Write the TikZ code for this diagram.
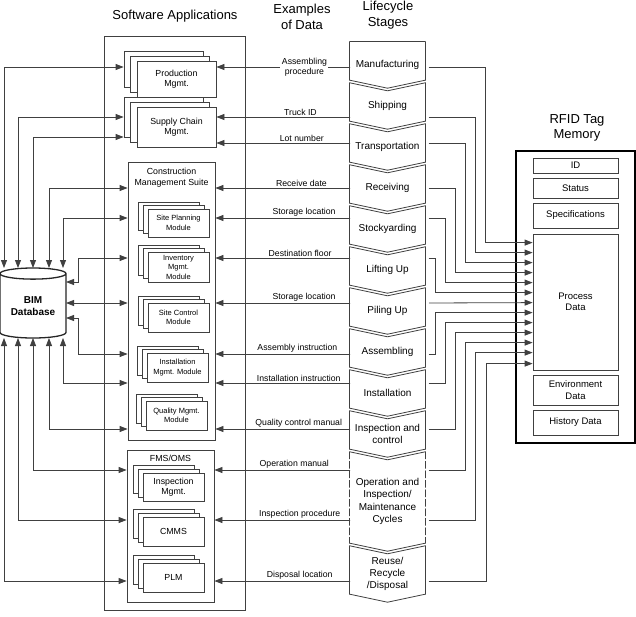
\documentclass[tikz,border=0pt]{standalone}
\usepackage{fontspec}
\setmainfont{Liberation Sans}
\usetikzlibrary{arrows.meta,shapes.geometric,shadows,calc}

\newcommand{\fsize}[2]{\fontsize{#1}{#2}\selectfont}
% chevron outline round a stage node: [side style]{node}{top notch}
\newcommand{\stageshape}[3][solid]{%
  \draw[wire] (#2.north west) -- ($(#2.north)+(0,#3)$) -- (#2.north east);
  \draw[wire] ($(#2.south east)+(0,-8)$) -- (#2.south) -- ($(#2.south west)+(0,-8)$);
  \draw[wire, #1] (#2.north west) -- ($(#2.south west)+(0,-8)$)
    (#2.north east) -- ($(#2.south east)+(0,-8)$);}

\tikzset{
  wire/.style={draw=black!75, line width=0.8pt, line cap=round},
  arr/.style={wire, -{Triangle[length=8pt,width=6pt]}},
  biarr/.style={wire, {Triangle[length=8pt,width=6pt]}-{Triangle[length=8pt,width=6pt]}},
  title/.style={font=\fsize{13}{15.5}, align=center},
  grp/.style={draw=black!75, line width=0.8pt, inner sep=0pt},
  app/.style={draw=black!75, line width=0.8pt, fill=white, align=center, inner sep=1pt, font=\fsize{8.8}{10.5}},
  appstack/.style={app, minimum width=79pt, double copy shadow={shadow xshift=-6.5pt, shadow yshift=5pt}},
  modstack/.style={app, minimum width=61pt, font=\fsize{7.5}{9.5}, double copy shadow={shadow xshift=-5pt, shadow yshift=3.5pt}},
  fmsstack/.style={app, minimum width=61pt, double copy shadow={shadow xshift=-5pt, shadow yshift=4pt}},
  stage/.style={minimum width=75pt, align=center, inner sep=0pt, font=\fsize{10}{12.2}},
  lbl/.style={font=\fsize{8.7}{10}, inner sep=1.5pt, align=center},
  mem/.style={draw=black!75, line width=0.8pt, minimum width=85pt, align=center, inner sep=0pt, font=\fsize{9.5}{11.5}},
  db/.style={cylinder, shape border rotate=90, aspect=0.25, draw=black!85, line width=1.3pt, fill=white,
    minimum width=66pt, minimum height=70pt, inner sep=0pt, align=center, font=\bfseries\fsize{10}{12.5}},
}

\begin{document}
\begin{tikzpicture}[x=1pt, y=-1pt]
	\useasboundingbox (0,0) rectangle (636,616);

	% column headings
	\node[title] (hsw) at (175,16) {Software Applications};
	\node[title] (hdata) at (302,17) {Examples\\of Data};
	\node[title] (hstage) at (388,15) {Lifecycle\\Stages};
	\node[title] (hrfid) at (577,128) {RFID Tag\\Memory};

	% rows of the data column
	\coordinate (r1) at (0,67);
	\coordinate (r2) at (0,117);
	\coordinate (r3) at (0,143);
	\coordinate (r3b) at (0,137);
	\coordinate (r4) at (0,188);
	\coordinate (r5) at (0,218);
	\coordinate (r6) at (0,258);
	\coordinate (r7) at (0,303);
	\coordinate (r8) at (0,354);
	\coordinate (r9) at (0,383);
	\coordinate (r10) at (0,429);
	\coordinate (r11) at (0,470);
	\coordinate (r12) at (0,520);
	\coordinate (r13) at (0,581);

	% software applications
	\node[grp, minimum width=141pt, minimum height=574pt] (sw) at (174.5,323) {};
	\node[appstack, minimum height=36pt] (prod) at (176.5,79) {Production\\Mgmt.};
	\node[appstack, minimum height=40pt] (scm) at (176.5,127) {Supply Chain\\Mgmt.};

	\node[grp, minimum width=87pt, minimum height=278pt] (cms) at (171.5,301) {};
	\node[app, draw=none, fill=none] (cmst) at (171.5,177.5) {Construction\\Management Suite};
	\node[modstack, minimum height=28pt] (spm) at (178.5,223) {Site Planning\\Module};
	\node[modstack, minimum height=30pt] (inv) at (178.5,267) {Inventory\\Mgmt.\\Module};
	\node[modstack, minimum height=29pt] (scn) at (178.5,317.5) {Site Control\\Module};
	\node[modstack, minimum height=29pt] (ins) at (177.5,367.5) {Installation\\Mgmt. Module};
	\node[modstack, minimum height=29pt] (qm) at (176.5,415.5) {Quality Mgmt.\\Module};

	\node[grp, minimum width=87pt, minimum height=152pt] (fms) at (170.5,526) {};
	\node[app, draw=none, fill=none] (fmst) at (170.5,458) {FMS/OMS};
	\node[fmsstack, minimum height=28pt] (insp) at (173.5,487) {Inspection\\Mgmt.};
	\node[fmsstack, minimum height=29pt] (cmms) at (173.5,531.5) {CMMS};
	\node[fmsstack, minimum height=29pt] (plm) at (173.5,577.5) {PLM};

	% lifecycle stages
	\node[stage, minimum height=46pt] (s1) at (387.5,65) {Manufacturing};
	\node[stage, minimum height=46pt] (s2) at (387.5,106) {Shipping};
	\node[stage, minimum height=46pt] (s3) at (387.5,147) {Transportation};
	\node[stage, minimum height=46pt] (s4) at (387.5,188) {Receiving};
	\node[stage, minimum height=46pt] (s5) at (387.5,229) {Stockyarding};
	\node[stage, minimum height=46pt] (s6) at (387.5,270) {Lifting Up};
	\node[stage, minimum height=46pt] (s7) at (387.5,311) {Piling Up};
	\node[stage, minimum height=46pt] (s8) at (387.5,352) {Assembling};
	\node[stage, minimum height=46pt] (s9) at (387.5,393) {Installation};
	\node[stage, minimum height=46pt] (s10) at (387.5,434) {Inspection and\\control};
	\node[stage, minimum height=99pt] (s11) at (387.5,501.5) {Operation and\\Inspection/\\Maintenance\\Cycles};
	\node[stage, minimum height=56pt] (s12) at (387.5,574) {Reuse/\\Recycle\\/Disposal};

	\stageshape{s1}{0}
	\stageshape{s2}{8}
	\stageshape{s3}{8}
	\stageshape{s4}{8}
	\stageshape{s5}{8}
	\stageshape{s6}{8}
	\stageshape{s7}{8}
	\stageshape{s8}{8}
	\stageshape{s9}{8}
	\stageshape{s10}{8}
	\stageshape[dash pattern=on 7pt off 2.5pt]{s11}{8}
	\stageshape{s12}{8}

	% RFID tag memory
	\node[draw=black, line width=2pt, minimum width=119pt, minimum height=292pt] (rfid) at (575.5,297) {};
	\node[mem, minimum height=15pt] (id) at (575.5,165.5) {ID};
	\node[mem, minimum height=20pt] (st) at (575.5,188) {Status};
	\node[mem, minimum height=25pt] (spec) at (575.5,215.5) {Specifications};
	\node[mem, minimum height=136pt] (pd) at (575.5,302) {Process\\Data};
	\node[mem, minimum height=30pt] (env) at (575.5,390) {Environment\\Data};
	\node[mem, minimum height=25pt] (hist) at (575.5,422.5) {History Data};

	% BIM database
	\node[db, anchor=shape center] (db) at (33,303) {BIM\\Database};

	% examples of data
	\draw[arr] (s1.west |- r1) -- node[lbl, fill=white, pos=0.34] {Assembling\\procedure} (prod.east |- r1);
	\draw[arr] (s2.west |- r2) -- node[lbl, above, pos=0.37] {Truck ID} (scm.east |- r2);
	\draw[arr] (s3.west |- r3) -- node[lbl, above, pos=0.36] {Lot number} (scm.east |- r3);
	\draw[arr] (s4.west |- r4) -- node[lbl, above, pos=0.36] {Receive date} (cms.east |- r4);
	\draw[arr] (s5.west |- r5) -- node[lbl, above, pos=0.34] {Storage location} (cms.east |- r5);
	\draw[arr] (s6.west |- r6) -- node[lbl, above, pos=0.37] {Destination floor} (cms.east |- r6);
	\draw[arr] (s7.west |- r7) -- node[lbl, above, pos=0.34] {Storage location} (cms.east |- r7);
	\draw[arr] (s8.west |- r8) -- node[lbl, above, pos=0.39] {Assembly instruction} (cms.east |- r8);
	\draw[arr] (s9.west |- r9) -- node[lbl, above, pos=0.38] {Installation instruction} (cms.east |- r9);
	\draw[arr] (s10.west |- r10) -- node[lbl, above, pos=0.38] {Quality control manual} (cms.east |- r10);
	\draw[arr] (s11.west |- r11) -- node[lbl, above, pos=0.41] {Operation manual} (fms.east |- r11);
	\draw[arr] (s11.west |- r12) -- node[lbl, above, pos=0.37] {Inspection procedure} (fms.east |- r12);
	\draw[arr] (s12.west |- r13) -- node[lbl, above, pos=0.37] {Disposal location} (fms.east |- r13);

	% stages to process data
	\draw[arr, shorten <=4pt] (s1.east |- r1) -- ++(60,0) |- ($(pd.north west)+(0,9)$);
	\draw[arr, shorten <=4pt] (s2.east |- r2) -- ++(50,0) |- ($(pd.north west)+(0,19)$);
	\draw[arr, shorten <=4pt] (s3.east |- r3) -- ++(40,0) |- ($(pd.north west)+(0,29)$);
	\draw[arr, shorten <=4pt] (s4.east |- r4) -- ++(30,0) |- ($(pd.north west)+(0,39)$);
	\draw[arr, shorten <=4pt] (s5.east |- r5) -- ++(20,0) |- ($(pd.north west)+(0,49)$);
	\draw[arr, shorten <=4pt] (s6.east |- r6) -- ++(10,0) |- ($(pd.north west)+(0,59)$);
	\draw[arr, shorten <=4pt] (s7.east |- r7) -- ($(pd.north west)+(0,69)$);
	\draw[arr, shorten <=4pt] (s8.east |- r8) -- ++(10,0) |- ($(pd.north west)+(0,79)$);
	\draw[arr, shorten <=4pt] (s9.east |- r9) -- ++(20,0) |- ($(pd.north west)+(0,89)$);
	\draw[arr, shorten <=4pt] (s10.east |- r10) -- ++(30,0) |- ($(pd.north west)+(0,99)$);
	\draw[arr, shorten <=4pt] (s11.east |- r11) -- ++(40,0) |- ($(pd.north west)+(0,109)$);
	\draw[arr, shorten <=4pt] (s11.east |- r12) -- ++(50,0) |- ($(pd.north west)+(0,119)$);
	\draw[arr, shorten <=4pt] (s12.east |- r13) -- ++(61,0) |- ($(pd.north west)+(0,130)$);

	% database to applications
	\draw[biarr] ($(db.shape center)+(-29,-35)$) |- ($(prod.west |- r1)+(-13,0)$);
	\draw[biarr] ($(db.shape center)+(-15,-35)$) |- ($(scm.west |- r2)+(-13,0)$);
	\draw[biarr] ($(db.shape center)+(0,-35)$) |- ($(scm.west |- r3b)+(-13,0)$);
	\draw[biarr] ($(db.shape center)+(16,-35)$) |- (cms.west |- r4);
	\draw[biarr] ($(db.shape center)+(30,-35)$) |- (cms.west |- r5);
	\draw[biarr] ($(db.shape center)+(33,-21)$) -- ++(12,0) |- (cms.west |- r6);
	\draw[biarr] ($(db.shape center)+(33,0)$) -- (cms.west |- r7);
	\draw[biarr] ($(db.shape center)+(33,15)$) -- ++(12,0) |- (cms.west |- r8);
	\draw[biarr] ($(db.shape center)+(30,35)$) |- (cms.west |- r9);
	\draw[biarr] ($(db.shape center)+(16,35)$) |- (cms.west |- r10);
	\draw[biarr] ($(db.shape center)+(0,35)$) |- (fms.west |- r11);
	\draw[biarr] ($(db.shape center)+(-15,35)$) |- (fms.west |- r12);
	\draw[biarr] ($(db.shape center)+(-29,35)$) |- (fms.west |- r13);
\end{tikzpicture}
\end{document}
